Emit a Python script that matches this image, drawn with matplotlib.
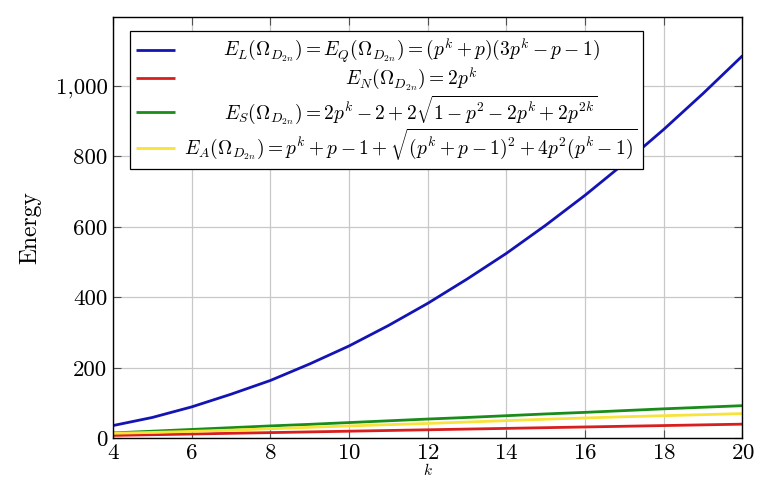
import numpy as np
import matplotlib
matplotlib.use("Agg")
import matplotlib.pyplot as plt
from matplotlib.ticker import FuncFormatter, MultipleLocator

plt.rcParams["font.family"] = "serif"
plt.rcParams["font.serif"] = ["cmr10", "DejaVu Serif"]
plt.rcParams["mathtext.fontset"] = "cm"
plt.rcParams["axes.formatter.use_mathtext"] = True

# values (x = p^k)
pk = [4, 5, 6, 7, 8, 9, 10, 11, 12, 13, 14, 15, 16, 17, 18, 19, 20]
e_lq = [36, 59, 89, 125, 164, 211, 262, 320, 383, 452, 525, 605, 690, 781, 877, 979, 1086]
e_n = [8, 10, 12, 14, 16, 18, 20, 22, 24, 26, 28, 30, 32, 34, 36, 38, 40]
e_s = [15, 20, 25, 30, 35, 39.5, 44.5, 49.5, 54.5, 59, 64, 69, 73.5, 78.5, 83.5, 88, 92.5]
e_a = [14, 16.5, 19.5, 23, 27, 31, 35, 38.5, 42, 46, 50, 54, 57.5, 61, 64, 67, 70]

labels = [
    r"$E_L(\Omega_{D_{2n}}) = E_Q(\Omega_{D_{2n}}) = (p^k + p)(3p^k - p - 1)$",
    r"$E_N(\Omega_{D_{2n}}) = 2p^k$",
    r"$E_S(\Omega_{D_{2n}}) = 2p^k - 2 + 2\sqrt{1 - p^2 - 2p^k + 2p^{2k}}$",
    r"$E_A(\Omega_{D_{2n}}) = p^k + p - 1 + \sqrt{(p^k + p - 1)^2 + 4p^2(p^k - 1)}$",
]
colors = ["#1414b4", "#d81e1e", "#1a8c1a", "#f7e33a"]

fig = plt.figure(figsize=(7.74, 4.8), dpi=100)
ax = fig.add_axes([0.146, 0.087, 0.8133, 0.8776])

for ys, c, lab in zip([e_lq, e_n, e_s, e_a], colors, labels):
    ax.plot(pk, ys, color=c, lw=2, label=lab, solid_capstyle="butt")

ax.set_xlim(4, 20)
ax.set_ylim(0, 1196)
ax.xaxis.set_major_locator(MultipleLocator(2))
ax.yaxis.set_major_locator(MultipleLocator(200))
ax.yaxis.set_major_formatter(FuncFormatter(lambda v, p: f"{int(v):,}"))
ax.grid(True, color="#c8c8c8", lw=0.9)
ax.set_axisbelow(True)
ax.tick_params(direction="in", top=True, right=True, length=6, width=0.8,
               color="#505050", labelsize=16.5, pad=4)
for s in ax.spines.values():
    s.set_linewidth(1.0)

ax.set_ylabel("Energy", fontsize=17, labelpad=10)
ax.set_xlabel("$k$", fontsize=11, labelpad=-1)

leg = ax.legend(loc="upper left", bbox_to_anchor=(0.027, 0.967), borderaxespad=0,
                fontsize=14, fancybox=False, framealpha=1, edgecolor="black",
                handlelength=2.0, handletextpad=0.5, labelspacing=0.02,
                borderpad=0.3)
leg.get_frame().set_linewidth(0.9)

# centre the legend texts like pgfplots does
fig.canvas.draw()
r = fig.canvas.get_renderer()
widths = [t.get_window_extent(r).width for t in leg.get_texts()]
wmax = max(widths)
for t, w in zip(leg.get_texts(), widths):
    t.set_x((wmax - w) / 2)

fig.savefig("out.png", dpi=100)
